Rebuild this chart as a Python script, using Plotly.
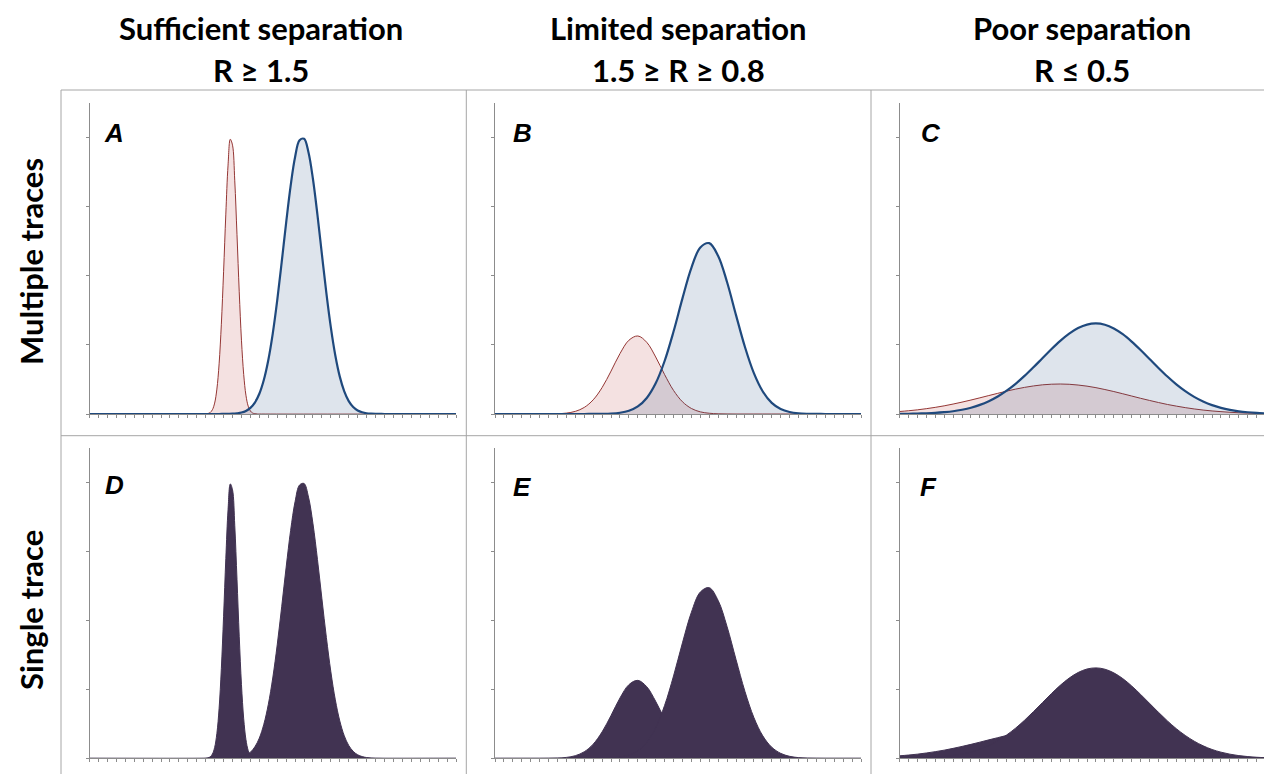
import plotly.graph_objects as go

# ---------------- data ----------------
columns = ["Sufficient separation", "Limited separation", "Poor separation"]
criteria = ["R \u2265 1.5", "1.5 \u2265 R \u2265 0.8", "R \u2264 0.5"]
rows = ["Multiple traces", "Single trace"]
top_letters = ["A", "B", "C"]
bottom_letters = ["D", "E", "F"]

x_int = list(range(42))

# Panel A / D
a_red_x = [0, 12.75, 13.0, 13.25, 13.5, 13.75, 14.0, 14.25, 14.5, 14.75, 15.0, 15.25, 15.5,
           15.75, 16.0, 16.25, 16.5, 16.75, 17.0, 17.25, 17.5, 17.75, 18.0, 18.25, 18.5,
           18.75, 19.0, 41]
a_red_y = [0, 0, 0.002, 0.007, 0.021, 0.062, 0.158, 0.360, 0.726, 1.299, 2.058, 2.892, 3.601,
           3.975, 3.890, 3.374, 2.594, 1.768, 1.068, 0.572, 0.272, 0.114, 0.043, 0.014, 0.004,
           0.001, 0, 0]
a_blue_x = [0, 14, 14.5, 15, 15.5, 16, 16.5, 17, 17.5, 18, 18.5, 19, 19.5, 20, 20.5, 21, 21.5,
            22, 22.5, 23, 23.5, 24, 24.5, 25, 25.5, 26, 26.5, 27, 27.5, 28, 28.5, 29, 29.5,
            30, 30.5, 31, 31.5, 32, 32.5, 33, 41]
a_blue_y = [0, 0, 0, 0.001, 0.002, 0.004, 0.010, 0.021, 0.044, 0.088, 0.166, 0.293, 0.492,
            0.778, 1.164, 1.644, 2.196, 2.770, 3.302, 3.720, 3.960, 3.982, 3.784, 3.397, 2.882,
            2.311, 1.750, 1.253, 0.847, 0.541, 0.327, 0.186, 0.101, 0.051, 0.025, 0.011, 0.005,
            0.002, 0.001, 0, 0]

# Panel B / E
b_red_y = [0, 0, 0, 0, 0, 0, 0.001, 0.004, 0.013, 0.038, 0.095, 0.205, 0.383, 0.621, 0.874,
           1.067, 1.129, 1.037, 0.825, 0.570, 0.341, 0.177, 0.080, 0.031, 0.011, 0.003, 0.001,
           0, 0, 0, 0, 0, 0, 0, 0, 0, 0, 0, 0, 0, 0, 0]
b_blue_y = [0, 0, 0, 0, 0, 0, 0, 0, 0, 0, 0, 0.001, 0.002, 0.006, 0.018, 0.046, 0.109, 0.232,
            0.444, 0.767, 1.193, 1.673, 2.115, 2.409, 2.472, 2.286, 1.906, 1.431, 0.969, 0.591,
            0.325, 0.161, 0.072, 0.029, 0.010, 0.003, 0.001, 0, 0, 0, 0, 0]

# Panel C / F
c_red_y = [0.036, 0.047, 0.060, 0.077, 0.096, 0.118, 0.144, 0.172, 0.202, 0.234, 0.267, 0.299,
           0.331, 0.360, 0.385, 0.406, 0.422, 0.431, 0.434, 0.430, 0.419, 0.403, 0.381, 0.354,
           0.325, 0.293, 0.260, 0.227, 0.196, 0.166, 0.138, 0.114, 0.092, 0.073, 0.057, 0.044,
           0.034, 0.025, 0.018, 0.013, 0.010, 0.007]
c_blue_y = [0.002, 0.003, 0.006, 0.010, 0.016, 0.026, 0.040, 0.062, 0.091, 0.132, 0.186, 0.254,
            0.338, 0.437, 0.551, 0.676, 0.806, 0.936, 1.057, 1.162, 1.243, 1.294, 1.310, 1.291,
            1.238, 1.155, 1.048, 0.926, 0.796, 0.666, 0.542, 0.429, 0.331, 0.248, 0.181, 0.128,
            0.089, 0.060, 0.039, 0.025, 0.015, 0.009]

panels = [
    (a_red_x, a_red_y, a_blue_x, a_blue_y),
    (x_int, b_red_y, x_int, b_blue_y),
    (x_int, c_red_y, x_int, c_blue_y),
]

# ---------------- styling ----------------
W, H = 1264, 774
RED_LINE = "#943634"
RED_FILL = "rgba(192,80,77,0.17)"
BLUE_LINE = "#1F497D"
BLUE_FILL = "rgba(31,73,125,0.15)"
DARK = "#413352"
AXIS_COL = "#8c8c8c"
BORDER_COL = "#a6a6a6"

x_domains = [(89.5, 456.0), (495.0, 861.0), (899.5, 1264.0)]
x_ranges = [[0, 41], [0, 41], [0, (1264.0 - 899.5) / 8.93]]
y_domains_px = [(414.0, 103.0), (758.3, 447.7)]  # (baseline, top) in pixels


def px_x(v):
    return v / W


def px_y(v):
    return 1 - v / H


fig = go.Figure()
layout = dict(
    width=W, height=H,
    margin=dict(l=0, r=0, t=0, b=0),
    paper_bgcolor="white", plot_bgcolor="white",
    showlegend=False,
)

idx = 0
for r in range(2):
    for c in range(3):
        idx += 1
        xa = "x" if idx == 1 else f"x{idx}"
        ya = "y" if idx == 1 else f"y{idx}"
        xkey = "xaxis" if idx == 1 else f"xaxis{idx}"
        ykey = "yaxis" if idx == 1 else f"yaxis{idx}"
        rx, ry, bx, by = panels[c]
        if r == 0:
            fig.add_trace(go.Scatter(x=rx, y=ry, mode="lines", xaxis=xa, yaxis=ya,
                                     fill="tozeroy", fillcolor=RED_FILL,
                                     line=dict(color=RED_LINE, width=1, shape="spline"),
                                     hoverinfo="skip"))
            fig.add_trace(go.Scatter(x=bx, y=by, mode="lines", xaxis=xa, yaxis=ya,
                                     fill="tozeroy", fillcolor=BLUE_FILL,
                                     line=dict(color=BLUE_LINE, width=2.2, shape="spline"),
                                     hoverinfo="skip"))
        else:
            for xx, yy in ((rx, ry), (bx, by)):
                fig.add_trace(go.Scatter(x=xx, y=yy, mode="lines", xaxis=xa, yaxis=ya,
                                         fill="tozeroy", fillcolor=DARK,
                                         line=dict(color=DARK, width=1, shape="spline"),
                                         hoverinfo="skip"))
        x0, x1 = x_domains[c]
        base, top = y_domains_px[r]
        layout[xkey] = dict(domain=[px_x(x0), min(1.0, px_x(x1))], range=x_ranges[c],
                            anchor=ya, showgrid=False, zeroline=False,
                            showline=True, linecolor=AXIS_COL, linewidth=1,
                            ticks="outside", ticklen=3, tickwidth=1, tickcolor=AXIS_COL,
                            tick0=0, dtick=1, showticklabels=False, fixedrange=True)
        layout[ykey] = dict(domain=[px_y(base), px_y(top)], range=[0, 4.5],
                            anchor=xa, showgrid=False, zeroline=False,
                            showline=True, linecolor=AXIS_COL, linewidth=1,
                            ticks="outside", ticklen=3, tickwidth=1, tickcolor=AXIS_COL,
                            tick0=0, dtick=1, showticklabels=False, fixedrange=True)

fig.update_layout(**layout)

# panel borders
border_lines = [
    (61, 90, W, 90),
    (61, 435.7, W, 435.7),
    (61, 90, 61, H),
    (466.3, 90, 466.3, H),
    (871, 90, 871, H),
]
for (xa0, ya0, xa1, ya1) in border_lines:
    fig.add_shape(type="line", xref="paper", yref="paper",
                  x0=px_x(xa0), y0=px_y(ya0), x1=px_x(xa1), y1=px_y(ya1),
                  line=dict(color=BORDER_COL, width=1), layer="below")

# column titles
title_font = dict(family="Lato, 'Open Sans', sans-serif", size=31, color="black")
col_centers = [261, 678, 1082]
for cx, t1, t2 in zip(col_centers, columns, criteria):
    fig.add_annotation(text=f"<b>{t1}</b>", x=px_x(cx), y=px_y(28), xref="paper", yref="paper",
                       xanchor="center", yanchor="middle", showarrow=False, font=title_font)
    fig.add_annotation(text=f"<b>{t2}</b>", x=px_x(cx), y=px_y(70), xref="paper", yref="paper",
                       xanchor="center", yanchor="middle", showarrow=False, font=title_font)

# row titles
for cy, t in zip([262, 610], rows):
    fig.add_annotation(text=f"<b>{t}</b>", x=px_x(31), y=px_y(cy), xref="paper", yref="paper",
                       xanchor="center", yanchor="middle", showarrow=False, textangle=-90,
                       font=title_font)

# panel letters
letter_font = dict(family="'Liberation Sans', Arial, sans-serif", size=26, color="black")
letter_pos_top = [(102, 133), (511, 133), (919, 133)]
letter_pos_bot = [(103, 485), (511, 487), (918, 487)]
for (lx, ly), t in zip(letter_pos_top + letter_pos_bot, top_letters + bottom_letters):
    fig.add_annotation(text=f"<b><i>{t}</i></b>", x=px_x(lx), y=px_y(ly), xref="paper",
                       yref="paper", xanchor="left", yanchor="middle", showarrow=False,
                       font=letter_font)

fig.write_html("out.html", config={"displayModeBar": False})
